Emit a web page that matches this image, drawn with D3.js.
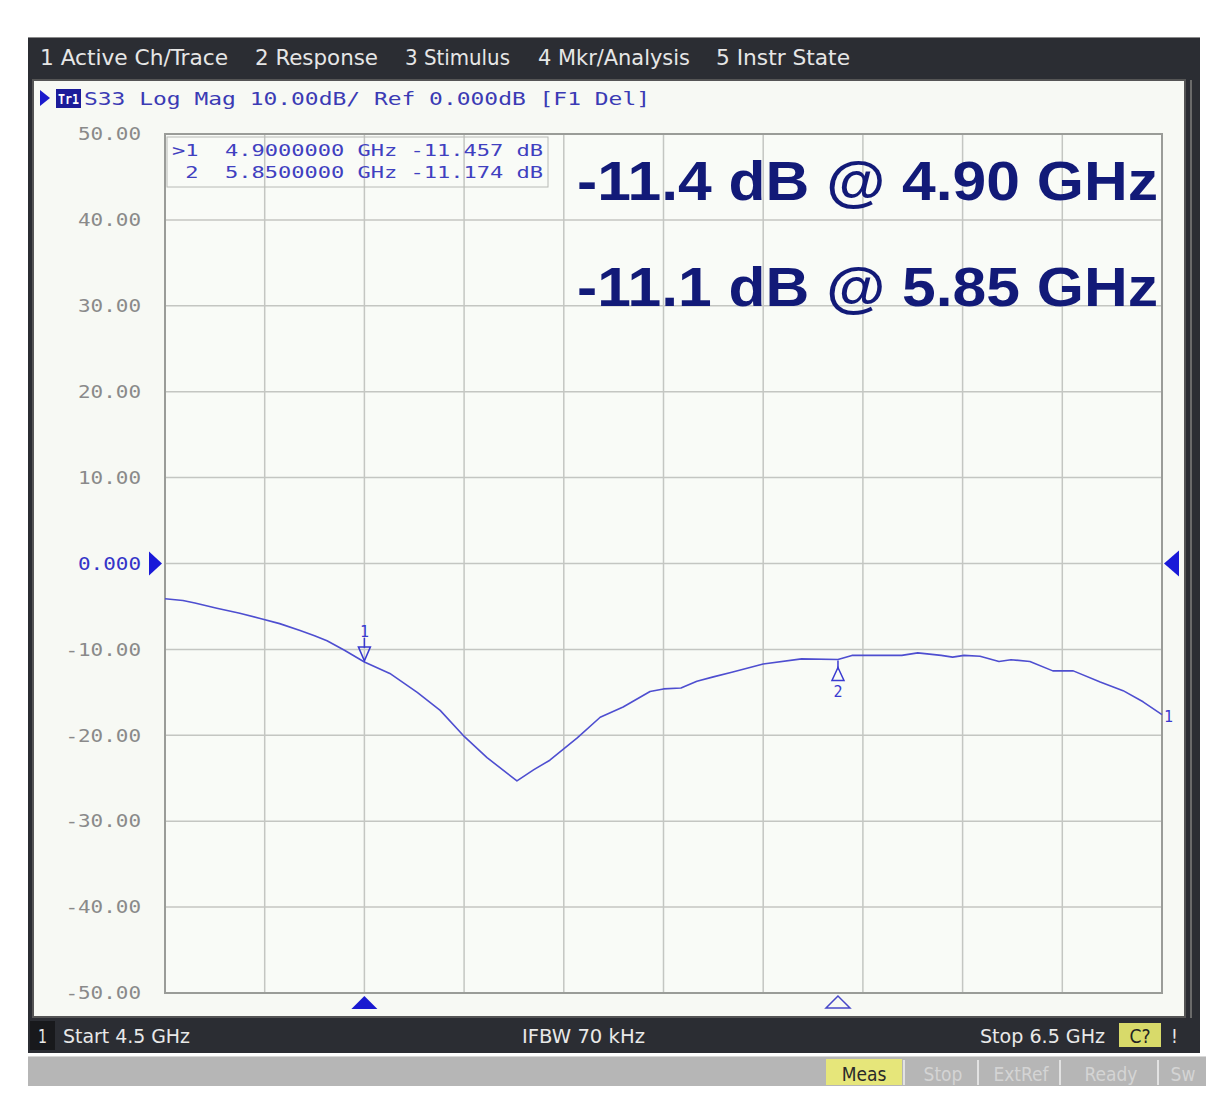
<!DOCTYPE html>
<html>
<head>
<meta charset="utf-8">
<script src="https://cdn.jsdelivr.net/npm/d3@7"></script>
<style>
  body { margin: 0; background: #fff; }
  svg { display: block; }
</style>
</head>
<body>
<div id="chart"></div>
<script>
// S33 trace
var freqGHz = [4.5, 4.536, 4.56, 4.604, 4.65, 4.691, 4.73, 4.771, 4.8, 4.825, 4.86, 4.9, 4.951, 5.006,
  5.052, 5.098, 5.146, 5.206, 5.24, 5.272, 5.327, 5.373, 5.419, 5.473, 5.5, 5.535, 5.567, 5.6, 5.637,
  5.7, 5.777, 5.85, 5.878, 5.93, 5.978, 6.01, 6.057, 6.08, 6.103, 6.135, 6.173, 6.197, 6.235, 6.281,
  6.322, 6.376, 6.422, 6.462, 6.5];
var s33dB = [-4.1, -4.3, -4.6, -5.2, -5.8, -6.4, -7.0, -7.8, -8.4, -9.0, -10.1, -11.46, -12.8, -15.0,
  -17.1, -20.0, -22.6, -25.3, -24.0, -22.9, -20.3, -17.9, -16.7, -14.9, -14.6, -14.5, -13.7, -13.2, -12.65,
  -11.7, -11.1, -11.17, -10.7, -10.7, -10.7, -10.4, -10.7, -10.9, -10.7, -10.8, -11.4, -11.2, -11.4, -12.5,
  -12.5, -13.8, -14.8, -16.1, -17.6];

var freqTicks = [4.5, 4.7, 4.9, 5.1, 5.3, 5.5, 5.7, 5.9, 6.1, 6.3, 6.5];
var dbTicks = [50, 40, 30, 20, 10, 0, -10, -20, -30, -40, -50];
var dbTickLabels = ['50.00', '40.00', '30.00', '20.00', '10.00', '0.000', '-10.00', '-20.00', '-30.00', '-40.00', '-50.00'];

var menuItems = ['1 Active Ch/Trace', '2 Response', '3 Stimulus', '4 Mkr/Analysis', '5 Instr State'];
var markerFreq = [4.9, 5.85];
var markerDb = [-11.457, -11.174];
var markerRows = ['>1  4.9000000 GHz -11.457 dB', ' 2  5.8500000 GHz -11.174 dB'];
var notes = ['-11.4 dB @ 4.90 GHz', '-11.1 dB @ 5.85 GHz'];
var statusItems = ['Meas', 'Stop', 'ExtRef', 'Ready', 'Sw'];

var W = 1206, H = 1102;
var plot = {left: 165, right: 1162, top: 134, bottom: 993};
var blue = '#3b3bb4';
var mono = 'DejaVu Sans Mono, monospace';
var ui = 'DejaVu Sans Condensed, DejaVu Sans, sans-serif';

var svg = d3.select('#chart').append('svg').attr('width', W).attr('height', H);

var x = d3.scaleLinear().domain([4.5, 6.5]).range([plot.left, plot.right]);
var y = d3.scaleLinear().domain([-50, 50]).range([plot.bottom, plot.top]);

svg.append('rect').attr('width', W).attr('height', H).attr('fill', '#ffffff');

// instrument frame
svg.append('rect').attr('x', 28).attr('y', 37).attr('width', 1172).attr('height', 1016).attr('fill', '#2b2d33');
svg.append('line').attr('x1', 28).attr('x2', 1200).attr('y1', 37.5).attr('y2', 37.5).attr('stroke', '#8a8a8a');

// menu bar
var menuX = [40, 255, 405, 538, 716];
var menuW = [188, 123, 105, 152, 134];
svg.selectAll('.menu')
  .data(menuItems)
  .enter()
  .append('text')
  .attr('x', function(d, i) { return menuX[i]; })
  .attr('y', 65)
  .attr('textLength', function(d, i) { return menuW[i]; })
  .attr('lengthAdjust', 'spacingAndGlyphs')
  .attr('font-family', ui)
  .attr('font-size', 21)
  .attr('fill', '#e6e6e6')
  .text(function(d) { return d; });

// white display panel
svg.append('rect').attr('x', 33).attr('y', 80).attr('width', 1152).attr('height', 937)
  .attr('fill', '#f7f9f4').attr('stroke', '#555').attr('stroke-width', 2);
svg.append('line').attr('x1', 1191).attr('x2', 1191).attr('y1', 80).attr('y2', 1018).attr('stroke', '#6a6a6a').attr('stroke-width', 2);

// trace header
svg.append('path').attr('d', 'M40,90 L50,98 L40,106 Z').attr('fill', '#1a1acc');
svg.append('rect').attr('x', 56).attr('y', 89).attr('width', 25).attr('height', 19).attr('fill', '#1c1c9a');
svg.append('text').attr('x', 58).attr('y', 104).attr('font-family', mono).attr('font-size', 14)
  .attr('font-weight', 'bold').attr('fill', '#fff').attr('textLength', 21).attr('lengthAdjust', 'spacingAndGlyphs').text('Tr1');
svg.append('text').attr('x', 84).attr('y', 105).attr('font-family', mono).attr('font-size', 17)
  .attr('fill', blue).attr('textLength', 566).attr('lengthAdjust', 'spacingAndGlyphs')
  .text('S33 Log Mag 10.00dB/ Ref 0.000dB [F1 Del]');

// plot background
svg.append('rect').attr('x', plot.left).attr('y', plot.top)
  .attr('width', plot.right - plot.left).attr('height', plot.bottom - plot.top)
  .attr('fill', '#f9fbf7');

// grid
svg.selectAll('.vgrid')
  .data(freqTicks)
  .enter()
  .append('line')
  .attr('x1', function(d) { return x(d); })
  .attr('x2', function(d) { return x(d); })
  .attr('y1', plot.top)
  .attr('y2', plot.bottom)
  .attr('stroke', '#c4c6c2')
  .attr('stroke-width', 1.5);
svg.selectAll('.hgrid')
  .data(dbTicks)
  .enter()
  .append('line')
  .attr('x1', plot.left)
  .attr('x2', plot.right)
  .attr('y1', function(d) { return y(d); })
  .attr('y2', function(d) { return y(d); })
  .attr('stroke', '#c4c6c2')
  .attr('stroke-width', 1.5);
svg.append('rect').attr('x', plot.left).attr('y', plot.top)
  .attr('width', plot.right - plot.left).attr('height', plot.bottom - plot.top)
  .attr('fill', 'none').attr('stroke', '#9a9c98').attr('stroke-width', 2);

// y axis labels
var yAxis = d3.axisLeft(y)
  .tickValues(dbTicks)
  .tickSize(0)
  .tickPadding(0)
  .tickFormat(function(d, i) { return dbTickLabels[i]; });
var ya = svg.append('g').attr('transform', 'translate(141,0)').call(yAxis);
ya.select('.domain').remove();
ya.selectAll('text')
  .attr('font-family', mono)
  .attr('font-size', 18)
  .attr('fill', function(d) { return d === 0 ? '#3434c8' : '#8a8a8a'; })
  .attr('textLength', function(d, i) { return dbTickLabels[i].length * 12.6; })
  .attr('lengthAdjust', 'spacingAndGlyphs');

// reference level arrows
var y0 = y(0);
svg.append('path').attr('d', 'M149,' + (y0 - 12) + ' L162,' + y0 + ' L149,' + (y0 + 12) + ' Z').attr('fill', '#1a1ad8');
svg.append('path').attr('d', 'M1179,' + (y0 - 13) + ' L1164,' + y0 + ' L1179,' + (y0 + 13) + ' Z').attr('fill', '#1a1ad8');

// marker table
svg.append('rect').attr('x', 167).attr('y', 137).attr('width', 381).attr('height', 50)
  .attr('fill', 'none').attr('stroke', '#b8bab6').attr('stroke-width', 1);
svg.selectAll('.mrow')
  .data(markerRows)
  .enter()
  .append('text')
  .attr('x', 172)
  .attr('y', function(d, i) { return 156 + i * 22; })
  .attr('font-family', mono)
  .attr('font-size', 16)
  .attr('fill', '#4040c0')
  .attr('textLength', 371)
  .attr('lengthAdjust', 'spacingAndGlyphs')
  .attr('xml:space', 'preserve')
  .style('white-space', 'pre')
  .text(function(d) { return d; });

// big annotations
svg.selectAll('.note')
  .data(notes)
  .enter()
  .append('text')
  .attr('x', 577)
  .attr('y', function(d, i) { return 200 + i * 106; })
  .attr('font-family', 'Liberation Sans, Arial, sans-serif')
  .attr('font-weight', 'bold')
  .attr('font-size', 56)
  .attr('fill', '#121a78')
  .attr('textLength', 581)
  .attr('lengthAdjust', 'spacingAndGlyphs')
  .text(function(d) { return d; });

// trace
var line = d3.line()
  .x(function(d) { return x(d[0]); })
  .y(function(d) { return y(d[1]); });
svg.append('path')
  .datum(freqGHz.map(function(f, i) { return [f, s33dB[i]]; }))
  .attr('d', line)
  .attr('fill', 'none')
  .attr('stroke', '#4e4ed0')
  .attr('stroke-width', 1.6)
  .attr('stroke-linejoin', 'round');

// marker 1 (active) above trace
var m1x = x(markerFreq[0]), m1y = y(markerDb[0]);
svg.append('text').attr('x', m1x).attr('y', m1y - 25).attr('text-anchor', 'middle')
  .attr('font-family', mono).attr('font-size', 15).attr('fill', '#3a3ad0').text('1');
svg.append('line').attr('x1', m1x).attr('x2', m1x).attr('y1', m1y - 24).attr('y2', m1y - 14)
  .attr('stroke', '#3a3ad0').attr('stroke-width', 1.5);
svg.append('path').attr('d', 'M' + (m1x - 6) + ',' + (m1y - 15) + ' L' + (m1x + 6) + ',' + (m1y - 15) + ' L' + m1x + ',' + (m1y - 1) + ' Z')
  .attr('fill', 'none').attr('stroke', '#3a3ad0').attr('stroke-width', 1.5);

// marker 2 below trace
var m2x = x(markerFreq[1]), m2y = y(markerDb[1]);
svg.append('line').attr('x1', m2x).attr('x2', m2x).attr('y1', m2y + 1).attr('y2', m2y + 10)
  .attr('stroke', '#3a3ad0').attr('stroke-width', 1.5);
svg.append('path').attr('d', 'M' + m2x + ',' + (m2y + 8) + ' L' + (m2x + 6) + ',' + (m2y + 21) + ' L' + (m2x - 6) + ',' + (m2y + 21) + ' Z')
  .attr('fill', 'none').attr('stroke', '#3a3ad0').attr('stroke-width', 1.5);
svg.append('text').attr('x', m2x).attr('y', m2y + 38).attr('text-anchor', 'middle')
  .attr('font-family', mono).attr('font-size', 15).attr('fill', '#3a3ad0').text('2');

// trace number at right edge
svg.append('text').attr('x', x(6.5) + 2).attr('y', y(s33dB[s33dB.length - 1]) + 7)
  .attr('font-family', mono).attr('font-size', 15).attr('fill', '#3a3ad0').text('1');

// stimulus markers under the grid
svg.append('path').attr('d', 'M' + (m1x - 13) + ',1009 L' + m1x + ',996 L' + (m1x + 13) + ',1009 Z').attr('fill', '#1a1ad0');
svg.append('path').attr('d', 'M' + (m2x - 12) + ',1008 L' + m2x + ',996 L' + (m2x + 12) + ',1008 Z')
  .attr('fill', 'none').attr('stroke', '#4848c8').attr('stroke-width', 1.5);

// bottom channel bar
svg.append('rect').attr('x', 30).attr('y', 1021).attr('width', 25).attr('height', 29).attr('fill', '#18191c');
var barTexts = [
  {t: '1', x: 38, w: 9},
  {t: 'Start 4.5 GHz', x: 63, w: 127},
  {t: 'IFBW 70 kHz', x: 522, w: 123},
  {t: 'Stop 6.5 GHz', x: 980, w: 125}
];
svg.selectAll('.bar')
  .data(barTexts)
  .enter()
  .append('text')
  .attr('x', function(d) { return d.x; })
  .attr('y', 1043)
  .attr('textLength', function(d) { return d.w; })
  .attr('lengthAdjust', 'spacingAndGlyphs')
  .attr('font-family', ui)
  .attr('font-size', 19)
  .attr('fill', '#e8e8e8')
  .text(function(d) { return d.t; });
svg.append('rect').attr('x', 1119).attr('y', 1023).attr('width', 42).attr('height', 24).attr('fill', '#d8da6a');
svg.append('text').attr('x', 1140).attr('y', 1043).attr('text-anchor', 'middle').attr('font-family', ui)
  .attr('font-size', 19).attr('fill', '#222').text('C?');
svg.append('text').attr('x', 1171).attr('y', 1043).attr('font-family', ui)
  .attr('font-size', 19).attr('fill', '#e8e8e8').text('!');

// status bar
svg.append('rect').attr('x', 28).attr('y', 1056).attr('width', 1178).attr('height', 30).attr('fill', '#b6b6b6');
svg.append('line').attr('x1', 28).attr('x2', 1206).attr('y1', 1056.5).attr('y2', 1056.5).attr('stroke', '#d8d8d8');
var statusX = [826, 906, 980, 1062, 1160];
var statusW = [76, 74, 82, 98, 46];
svg.append('rect').attr('x', 826).attr('y', 1059).attr('width', 76).attr('height', 26).attr('fill', '#e6e67a');
svg.selectAll('.sep')
  .data(statusX.slice(1))
  .enter()
  .append('line')
  .attr('x1', function(d) { return d - 2; })
  .attr('x2', function(d) { return d - 2; })
  .attr('y1', 1060)
  .attr('y2', 1085)
  .attr('stroke', '#e2e2e2')
  .attr('stroke-width', 2);
svg.selectAll('.status')
  .data(statusItems)
  .enter()
  .append('text')
  .attr('x', function(d, i) { return statusX[i] + statusW[i] / 2; })
  .attr('y', 1081)
  .attr('text-anchor', 'middle')
  .attr('font-family', ui)
  .attr('font-size', 19)
  .attr('fill', function(d, i) { return i === 0 ? '#2a2a2a' : '#d4d4d4'; })
  .text(function(d) { return d; });
</script>
</body>
</html>
